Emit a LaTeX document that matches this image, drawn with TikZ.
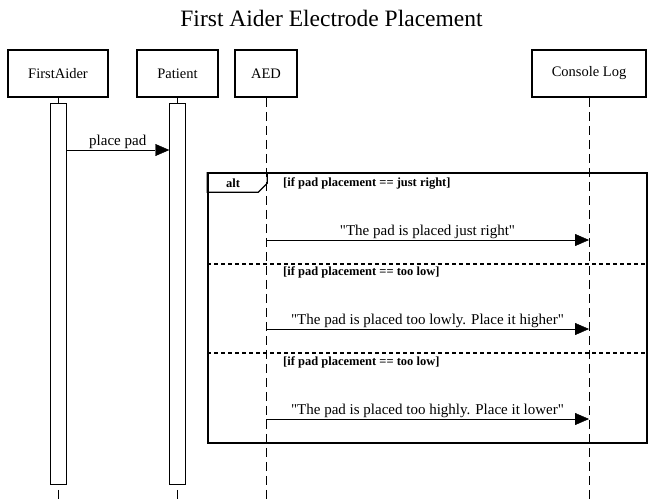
\documentclass[tikz,border=0pt]{standalone}
\usepackage{fontspec}
\setmainfont{Liberation Serif}[Ligatures=TeXOff]
\usetikzlibrary{arrows.meta}

\begin{document}
\begin{tikzpicture}[x=1pt,y=-1pt,actor/.style={draw,line width=1.6pt,minimum height=47pt,inner sep=0pt,font=\fontsize{14.5}{16}\selectfont},bar/.style={draw,fill=white,minimum width=16pt,minimum height=381pt,inner sep=0pt},life/.style={dash pattern=on 9pt off 5pt},msg/.style={-{Triangle[length=14pt,width=12pt]}},lbl/.style={font=\fontsize{15}{17}\selectfont,above,inner sep=1.5pt},guard/.style={font=\bfseries\fontsize{12.5}{14}\selectfont,anchor=west,inner sep=0pt},sep/.style={line width=1.6pt,dash pattern=on 4pt off 3pt}]
\useasboundingbox (0,0) rectangle (663,501);
\node[font=\fontsize{23.5}{26}\selectfont] (title) at (331.5,18) {First Aider Electrode Placement};
\foreach \n/\x/\w/\t in %
{fa/58/100/FirstAider,pt/177.5/81/Patient,aed/266/62/AED,log/589/114/Console Log} {
   \node[actor,minimum width=\w pt] (\n) at (\x,73.5) {\t};
   \coordinate (\n-end) at (\x,501);
   \draw[life] (\n) -- (\n-end);
}
\node[bar] (fabar) at (58,293.5) {};
\node[bar] (ptbar) at (177.5,293.5) {};
\draw[msg] (fabar.east |- 0,150) -- (ptbar.west |- 0,150)
   node[lbl,midway] {place pad};
\node[draw,line width=1.6pt,minimum width=439pt,minimum height=270pt,inner sep=0pt] (alt) at (427.5,308) {};
\draw[line width=1.2pt] (alt.north west) |- ++(51,20) -- ++(9,-9) -- ++(0,-11);
\node[font=\bfseries\fontsize{12.5}{14}\selectfont] (alttag) at (233,183) {alt};
\foreach \y in {264,353} {
   \draw[sep] (alt.west |- 0,\y) -- (alt.east |- 0,\y);
}
\foreach \i/\y/\g/\t in %
{1/240/just right/"The pad is placed just right",%
2/329/too low/"The pad is placed too lowly. Place it higher",%
3/419/too low/"The pad is placed too highly. Place it lower"} {
   \node[guard] (g\i) at (283,\y-57) {[if pad placement == \g]};
   \draw[msg] (aed |- 0,\y) -- (log |- 0,\y)
      node[lbl,midway] {\t};
}
\end{tikzpicture}
\end{document}
